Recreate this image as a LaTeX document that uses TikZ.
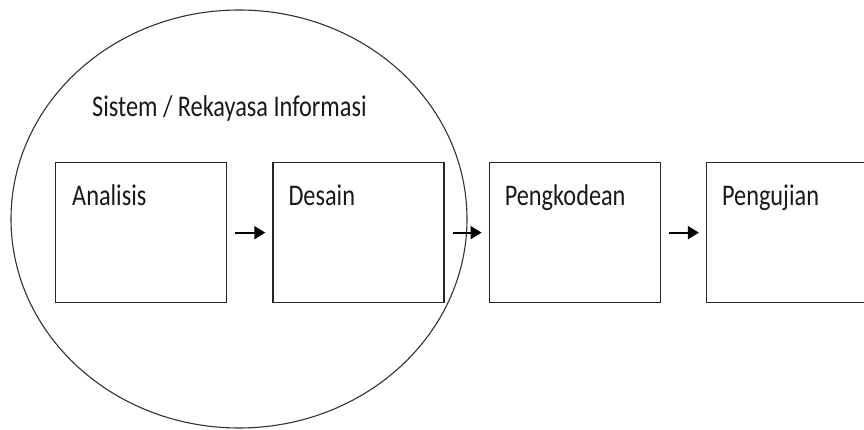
\documentclass[tikz,border=0pt]{standalone}
\usepackage{fontspec}
\newfontfamily\diagfont[FakeStretch=0.81]{Carlito}
\usetikzlibrary{positioning, arrows.meta, shapes.geometric}

\begin{document}
\begin{tikzpicture}[
    x=1pt, y=-1pt,
    phase/.style={rectangle, draw=black!85, line width=1.3pt, minimum width=171pt, minimum height=140pt, inner sep=0pt},
    lbl/.style={anchor=base west, inner sep=0pt, text=black!90, font=\diagfont\fontsize{30}{34}\selectfont},
    arr/.style={-{Triangle[length=11pt, width=13pt]}, line width=1.8pt, shorten <=8pt, shorten >=7pt},
  ]
    \useasboundingbox (0,0) rectangle (864,430);

    \node[ellipse, draw=black!80, line width=1.1pt, minimum width=456pt, minimum height=418pt, inner sep=0pt] (sys) at (239,219) {};
    \node[lbl] (tsys) at (92,117) {Sistem / Rekayasa Informasi};

    \node[phase, anchor=north west] (ana) at (55,162) {};
    \node[phase, right=45pt of ana] (des) {};
    \node[phase, right=44pt of des] (kod) {};
    \node[phase, right=45pt of kod] (uji) {};

    \node[lbl] (tana) at ([shift={(17,44)}]ana.north west) {Analisis};
    \node[lbl] (tdes) at ([shift={(16,44)}]des.north west) {Desain};
    \node[lbl] (tkod) at ([shift={(16,44)}]kod.north west) {Pengkodean};
    \node[lbl] (tuji) at ([shift={(16,44)}]uji.north west) {Pengujian};

    \draw[arr] (ana) -- (des);
    \draw[arr] (des) -- (kod);
    \draw[arr] (kod) -- (uji);
  \end{tikzpicture}
\end{document}
